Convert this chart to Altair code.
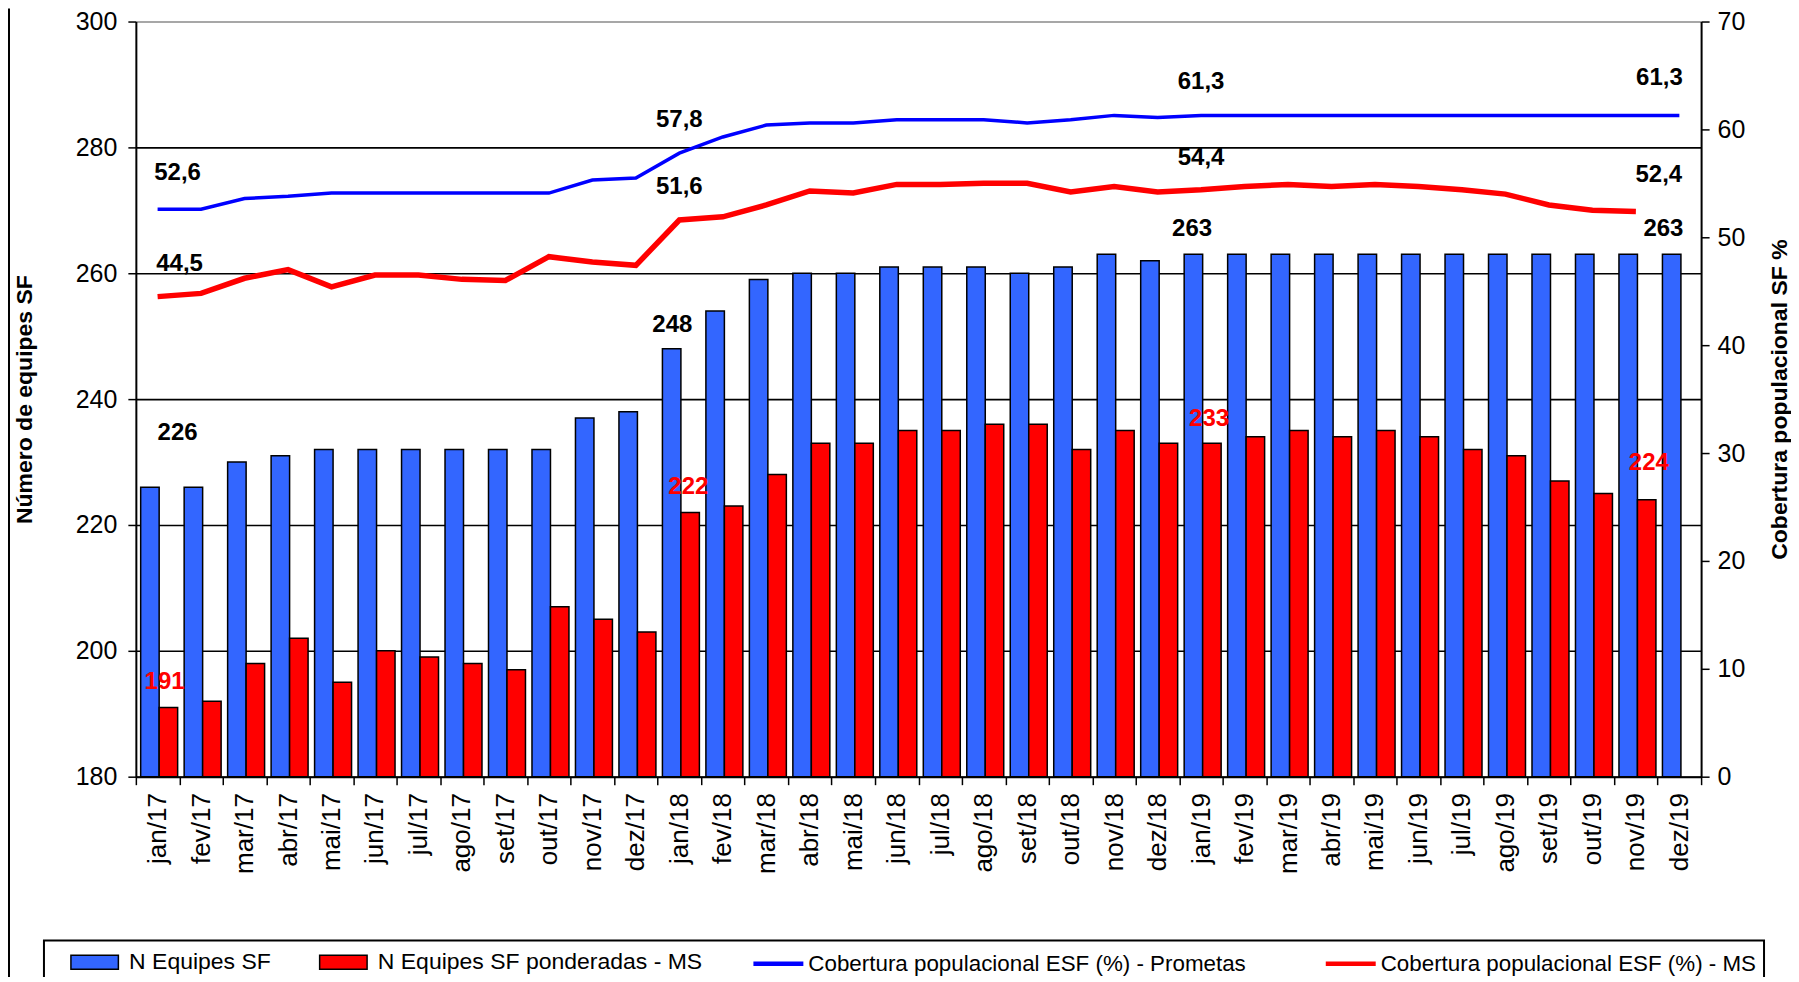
import altair as alt
import pandas as pd

FONT = "Liberation Sans"

months = ["jan/17", "fev/17", "mar/17", "abr/17", "mai/17", "jun/17", "jul/17", "ago/17", "set/17", "out/17", "nov/17", "dez/17",
          "jan/18", "fev/18", "mar/18", "abr/18", "mai/18", "jun/18", "jul/18", "ago/18", "set/18", "out/18", "nov/18", "dez/18",
          "jan/19", "fev/19", "mar/19", "abr/19", "mai/19", "jun/19", "jul/19", "ago/19", "set/19", "out/19", "nov/19", "dez/19"]

n_equipes = [226, 226, 230, 231, 232, 232, 232, 232, 232, 232, 237, 238,
             248, 254, 259, 260, 260, 261, 261, 261, 260, 261, 263, 262,
             263, 263, 263, 263, 263, 263, 263, 263, 263, 263, 263, 263]

n_ponderadas = [191, 192, 198, 202, 195, 200, 199, 198, 197, 207, 205, 203,
                222, 223, 228, 233, 233, 235, 235, 236, 236, 232, 235, 233,
                233, 234, 235, 234, 235, 234, 232, 231, 227, 225, 224, None]

cob_prometas = [52.6, 52.6, 53.6, 53.8, 54.1, 54.1, 54.1, 54.1, 54.1, 54.1, 55.3, 55.5,
                57.8, 59.3, 60.4, 60.6, 60.6, 60.9, 60.9, 60.9, 60.6, 60.9, 61.3, 61.1,
                61.3, 61.3, 61.3, 61.3, 61.3, 61.3, 61.3, 61.3, 61.3, 61.3, 61.3, 61.3]

cob_ms = [44.5, 44.8, 46.2, 47.0, 45.4, 46.5, 46.5, 46.1, 46.0, 48.2, 47.7, 47.4,
          51.6, 51.9, 53.0, 54.3, 54.1, 54.9, 54.9, 55.0, 55.0, 54.2, 54.7, 54.2,
          54.4, 54.7, 54.9, 54.7, 54.9, 54.7, 54.4, 54.0, 53.0, 52.5, 52.4, None]

S_BAR1 = "N Equipes SF"
S_BAR2 = "N Equipes SF ponderadas - MS"
S_LINE1 = "Cobertura populacional ESF (%) - Prometas"
S_LINE2 = "Cobertura populacional ESF (%) - MS"
bar_names = [S_BAR1, S_BAR2]
bar_colors = ["#3366FF", "#FF0000"]
line_names = [S_LINE1, S_LINE2]
line_colors = ["#0000FF", "#FF0000"]

# labelled months for each series, with the label's nudge (dx, dy) in pixels
labels_bar1 = [("jan/17", 20, -54), ("jan/18", -7, -24), ("jan/19", -9, -25), ("dez/19", -16, -25)]
labels_bar2 = [("jan/17", 7, -25), ("jan/18", 9, -25), ("jan/19", 8, -24), ("nov/19", 13, -37)]
labels_line1 = [("jan/17", 20, -36), ("jan/18", 0, -33), ("jan/19", 0, -33), ("dez/19", -20, -37)]
labels_line2 = [("jan/17", 22, -33), ("jan/18", 0, -33), ("jan/19", 0, -32), ("nov/19", 23, -36)]


def fmt(v):
    return f"{v:.1f}".replace(".", ",")


# ---------- tables ----------
bar_rows = []
for m, a, b in zip(months, n_equipes, n_ponderadas):
    bar_rows.append({"month": m, "serie": S_BAR1, "value": a, "label": str(a)})
    if b is not None:
        bar_rows.append({"month": m, "serie": S_BAR2, "value": b, "label": str(b)})
bars_df = pd.DataFrame(bar_rows)

line_rows = []
for m, a, b in zip(months, cob_prometas, cob_ms):
    line_rows.append({"month": m, "serie": S_LINE1, "value": a, "label": fmt(a)})
    if b is not None:
        line_rows.append({"month": m, "serie": S_LINE2, "value": b, "label": fmt(b)})
lines_df = pd.DataFrame(line_rows)

# ---------- scales / axes ----------
x_scale = alt.Scale(paddingInner=0, paddingOuter=0)
x_axis = alt.Axis(labelAngle=-90, tickBand="extent", labelFontSize=26, labelPadding=8,
                  tickSize=8, tickWidth=1.5, tickColor="black", domainColor="black",
                  domainWidth=2, labelColor="black", grid=False, labelFont=FONT, title=None)

yl_scale = alt.Scale(domain=[180, 300], nice=False, zero=False)
yr_scale = alt.Scale(domain=[0, 70], nice=False, zero=False)

yl_axis = alt.Axis(values=[180, 200, 220, 240, 260, 280, 300], grid=True,
                   gridColor={"condition": {"test": "datum.value >= 300", "value": "#8a8a8a"}, "value": "black"},
                   gridWidth=1.6, domainColor="black", domainWidth=2,
                   tickColor="black", tickSize=8, tickWidth=1.5, labelFontSize=25,
                   labelFont=FONT, labelColor="black", labelPadding=11,
                   title="Número de equipes SF", titleFontSize=23, titleFontWeight="bold",
                   titleFont=FONT, titleColor="black", titleAngle=270, titleX=-111, titleY=378,
                   titleAlign="center", titleBaseline="middle")

yr_axis = alt.Axis(orient="right", values=[0, 10, 20, 30, 40, 50, 60, 70], grid=False,
                   domainColor="black", domainWidth=2, tickColor="black", tickSize=8,
                   tickWidth=1.5, labelFontSize=25, labelFont=FONT, labelColor="black",
                   labelPadding=8, title="Cobertura populacional SF %", titleFontSize=23,
                   titleFontWeight="bold", titleFont=FONT, titleColor="black",
                   titleAngle=270, titleX=78, titleY=378, titleAlign="center",
                   titleBaseline="middle")

bar_legend = alt.Legend(
    title=None, orient="none", legendX=-66, legendY=928, direction="horizontal",
    columns=2, columnPadding=45, symbolSize=625, symbolOffset=11.25, labelOffset=21,
    symbolType="M-1.9,-0.56H1.9V0.56H-1.9Z", symbolStrokeColor="black", symbolStrokeWidth=1.5,
    symbolOpacity=1, labelFontSize=23, labelFont=FONT, labelColor="black", labelLimit=800)

line_legend = alt.Legend(
    title=None, orient="none", legendX=617, legendY=928, direction="horizontal",
    columns=2, columnPadding=70, symbolSize=625, symbolOffset=11.25, labelOffset=15,
    symbolType="M-2,0H2", symbolStrokeWidth=4.5, symbolOpacity=1,
    labelFontSize=22.4, labelFont=FONT, labelColor="black", labelLimit=800)

# ---------- left group: bars + their labels ----------
left_base = alt.Chart(bars_df).encode(
    x=alt.X("month:N", sort=months, scale=x_scale, axis=x_axis),
    y=alt.Y("value:Q", scale=yl_scale, axis=yl_axis),
)
bars = left_base.mark_bar(stroke="black", strokeWidth=1.5).encode(
    xOffset=alt.XOffset("serie:N", sort=bar_names,
                        scale=alt.Scale(paddingInner=0, paddingOuter=0.176, align=0.74)),
    y2=alt.datum(180),
    color=alt.Color("serie:N", scale=alt.Scale(domain=bar_names, range=bar_colors), legend=bar_legend),
)

left_layers = [bars]
for serie, specs, col in [(S_BAR1, labels_bar1, "black"), (S_BAR2, labels_bar2, "#FF0000")]:
    for m, dx, dy in specs:
        left_layers.append(
            left_base.transform_filter(
                (alt.datum.serie == serie) & (alt.datum.month == m)
            ).mark_text(dx=dx, dy=dy, fontSize=24, fontWeight="bold", color=col,
                        baseline="middle", align="center").encode(text="label:N"))

# decorations: outer frame edge and legend box
deco = pd.DataFrame({"f": [0]})
frame = alt.Chart(deco).mark_rule(color="black", strokeWidth=2).encode(
    x=alt.value(-127), y=alt.value(-13), y2=alt.value(960))
legend_box = alt.Chart(deco).mark_rect(fillOpacity=0, stroke="black", strokeWidth=2).encode(
    x=alt.value(-92), x2=alt.value(1630), y=alt.value(920), y2=alt.value(1010))
left_layers += [frame, legend_box]

left = alt.layer(*left_layers)

# ---------- right group: lines + their labels ----------
right_base = alt.Chart(lines_df).encode(
    x=alt.X("month:N", sort=months, scale=x_scale, axis=x_axis),
    y=alt.Y("value:Q", scale=yr_scale, axis=yr_axis),
)
line_color = alt.Color("serie:N", scale=alt.Scale(domain=line_names, range=line_colors), legend=line_legend)
line1 = right_base.transform_filter(alt.datum.serie == S_LINE1).mark_line(strokeWidth=3.5).encode(color=line_color)
line2 = right_base.transform_filter(alt.datum.serie == S_LINE2).mark_line(strokeWidth=5.5).encode(color=line_color)

right_layers = [line1, line2]
for serie, specs in [(S_LINE1, labels_line1), (S_LINE2, labels_line2)]:
    for m, dx, dy in specs:
        right_layers.append(
            right_base.transform_filter(
                (alt.datum.serie == serie) & (alt.datum.month == m)
            ).mark_text(dx=dx, dy=dy, fontSize=24, fontWeight="bold", color="black",
                        baseline="middle", align="center").encode(text="label:N"))

right = alt.layer(*right_layers)

chart = alt.layer(left, right).resolve_scale(y="independent", color="independent").properties(
    width=1567, height=756,
    autosize=alt.AutoSizeParams(type="none"),
    padding={"left": 128, "top": 13, "right": 90, "bottom": 200},
).configure(font=FONT).configure_view(stroke=None)

chart.save("out.html", embed_options={"renderer": "svg", "actions": False})
